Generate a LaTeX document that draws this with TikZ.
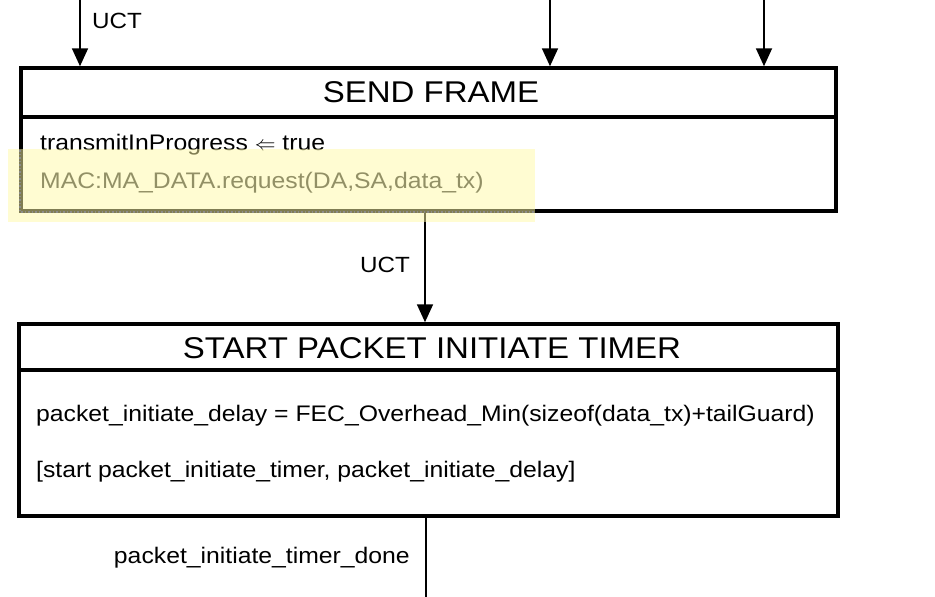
\documentclass[tikz,border=0pt]{standalone}
\usepackage{fontspec}
\setmainfont{Liberation Sans}[FakeStretch=1.1]
\usetikzlibrary{arrows.meta}
\begin{document}
\begin{tikzpicture}[x=1pt,y=-1pt,
  box/.style={draw=black,line width=3.5pt,inner sep=0pt},
  div/.style={draw=black,line width=3.5pt},
  conn/.style={draw=black,line width=1.8pt},
  arr/.style={conn,-{Triangle[length=18pt,width=16pt]}},
  title/.style={font=\fontsize{30}{34}\selectfont,inner sep=0pt},
  body/.style={font=\fontsize{22.5}{26}\selectfont,inner sep=0pt,anchor=base west},
  lbl/.style={font=\fontsize{22.5}{26}\selectfont,inner sep=0pt,anchor=base east}]
\useasboundingbox[fill=white] (0,0) rectangle (935,597);
% box 1
\node[box,minimum width=815pt,minimum height=143pt] (b1) at (428.5,139.5) {};
\coordinate (d1) at (21,117);
\draw[div] (b1.west |- d1) -- (b1.east |- d1);
\node[title] (t1) at (431,92) {SEND FRAME};
\node[body] (s1) at (40,150) {transmitInProgress $\Leftarrow$ true};
\node[body,text=black!85] (s2) at (40,188) {MAC:MA\_DATA.request(DA,SA,data\_tx)};
% incoming arrows
\coordinate (i1) at (80,0);
\coordinate (i2) at (550,0);
\coordinate (i3) at (764,0);
\draw[arr] (i1) -- (i1 |- b1.north);
\draw[arr] (i2) -- (i2 |- b1.north);
\draw[arr] (i3) -- (i3 |- b1.north);
\node[lbl,anchor=base west,font=\fontsize{22}{26}\selectfont] (u1) at (92,28) {UCT};
% box 2
\node[box,minimum width=819pt,minimum height=192pt] (b2) at (428.5,420) {};
\coordinate (d2) at (19,370);
\draw[div] (b2.west |- d2) -- (b2.east |- d2);
\node[title] (t2) at (432,348) {START PACKET INITIATE TIMER};
\node[body] (p1) at (36,421) {packet\_initiate\_delay = FEC\_Overhead\_Min(sizeof(data\_tx)+tailGuard)};
\node[body] (p2) at (36,477) {[start packet\_initiate\_timer, packet\_initiate\_delay]};
% connector 1 -> 2
\coordinate (m1) at (425,0);
\draw[arr] (m1 |- b1.south) -- (m1 |- b2.north);
\node[lbl,font=\fontsize{22}{26}\selectfont] (u2) at (410,272) {UCT};
% outgoing
\coordinate (o1) at (426,597);
\draw[conn,line width=1.4pt] (o1 |- b2.south) -- (o1);
\node[lbl] (u3) at (410,563) {packet\_initiate\_timer\_done};
% highlight
\fill[yellow!35,opacity=0.5] (8,149) rectangle (535,222);
\draw[black!45,line width=1.5pt,dotted] (20,150) -- (20,212) -- (535,212);
\end{tikzpicture}
\end{document}
